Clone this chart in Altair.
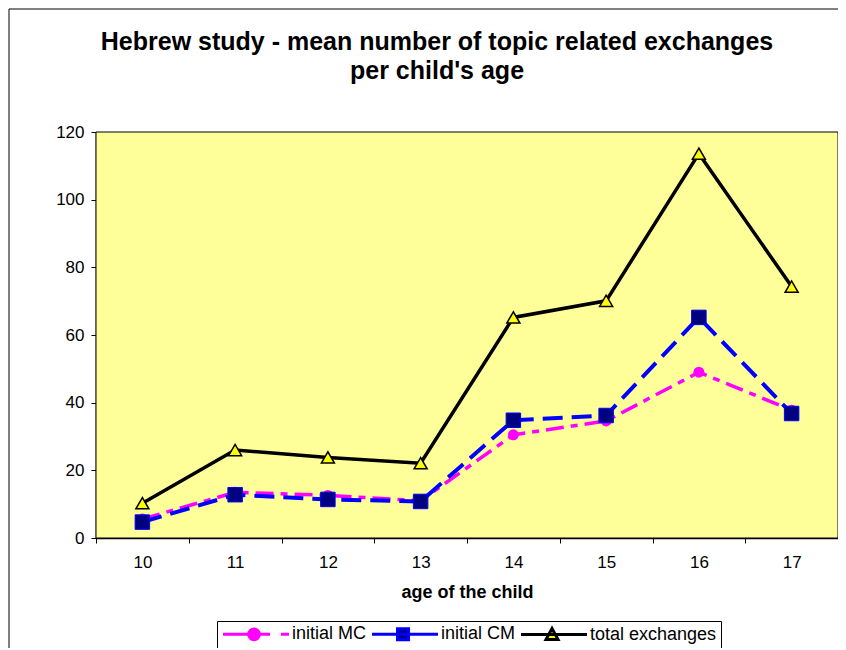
import altair as alt
import pandas as pd

ages = [10, 11, 12, 13, 14, 15, 16, 17]
initial_mc = [5.6, 13.5, 12.6, 11.0, 30.5, 34.6, 49.0, 37.8]
initial_cm = [4.7, 12.8, 11.4, 10.8, 34.8, 36.2, 65.2, 36.8]
total_exchanges = [10.3, 26.0, 23.8, 22.1, 65.2, 70.1, 113.6, 74.3]

series_names = ["initial MC", "initial CM", "total exchanges"]
line_colors = ["#FF00FF", "#0000FF", "#000000"]
marker_fills = ["#FF00FF", "#000080", "#FFFF00"]

title_lines = ["Hebrew study - mean number of topic related exchanges", "per child's age"]
x_title = "age of the child"

rows = []
for name, vals in zip(series_names, [initial_mc, initial_cm, total_exchanges]):
    for a, v in zip(ages, vals):
        rows.append({"age": a, "value": v, "series": name})
df = pd.DataFrame(rows)

W, H = 742, 406
FONT = "Liberation Sans"

x_ticks = [a - 0.5 for a in ages] + [ages[-1] + 0.5]
x_enc = alt.X(
    "age:Q",
    scale=alt.Scale(domain=[ages[0] - 0.5, ages[-1] + 0.5], nice=False, zero=False),
    axis=alt.Axis(
        values=x_ticks,
        labelExpr="datum.value < %s ? format(datum.value + 0.5, 'd') : ''" % ages[-1],
        labelOffset=W / len(ages) / 2,
        labelOverlap=False,
        labelFlush=False,
        title=x_title,
        grid=False,
    ),
)
y_enc = alt.Y(
    "value:Q",
    scale=alt.Scale(domain=[0, 120], nice=False),
    axis=alt.Axis(values=list(range(0, 121, 20)), title=None, grid=False),
)

base = alt.Chart(df)

def series_layers(name, dash, width, point_mark):
    d = base.transform_filter(alt.datum.series == name)
    line = d.mark_line(
        color=line_colors[series_names.index(name)], strokeWidth=width,
        **({"strokeDash": dash} if dash else {})
    ).encode(x=x_enc, y=y_enc)
    pts = d.mark_point(**point_mark).encode(x=x_enc, y=y_enc)
    return [line, pts]

layers = []
layers += series_layers("initial MC", [18, 7, 7, 7], 3.5,
                        dict(shape="circle", filled=True, color="#FF00FF", size=120, opacity=1))
layers += series_layers("initial CM", [20, 9], 4,
                        dict(shape="square", filled=True, fill="#000080", stroke="#0000FF",
                             strokeWidth=1, size=210, opacity=1))
layers += series_layers("total exchanges", None, 3.5,
                        dict(shape="triangle-up", filled=True, fill="#FFFF00", stroke="#000000",
                             strokeWidth=1.5, size=170, opacity=1))

# legend symbol shapes: line with marker (unit = 7px, drawn 0..66px from the symbol start)
leg_circle = "M-1,0H8.43M2.67,0A0.76,0.76 0 1,0 4.19,0A0.76,0.76 0 1,0 2.67,0Z"
leg_square = "M-1,0H8.43M2.64,-0.79H4.22V0.79H2.64Z"
leg_tri = "M-1,0H8.43M2.57,0.71L4.29,0.71L3.43,-0.86Z"

leg = alt.Legend(
    title=None, orient="none", legendX=121, legendY=489, direction="horizontal",
    strokeColor="#000000", fillColor="#FFFFFF", padding=4,
    labelFont=FONT, labelFontSize=18, labelColor="#000000",
    symbolSize=196, symbolStrokeWidth=3, labelOffset=53, columnPadding=-1,
    symbolOpacity=1,
)
legend_df = pd.DataFrame({"series": pd.Series([], dtype=str)})
legend_layer = alt.Chart(legend_df).mark_point(opacity=1).encode(
    shape=alt.Shape("series:N", scale=alt.Scale(domain=series_names,
                    range=[leg_circle, leg_square, leg_tri]), legend=leg),
    fill=alt.Fill("series:N", scale=alt.Scale(domain=series_names, range=marker_fills), legend=leg),
    stroke=alt.Stroke("series:N", scale=alt.Scale(domain=series_names, range=line_colors), legend=leg),
    strokeDash=alt.StrokeDash("series:N", scale=alt.Scale(domain=series_names,
                              range=[[47, 11, 10, 10], [1, 0], [1, 0]]), legend=leg),
)

one = pd.DataFrame({"a": [0]})
frame = alt.Chart(one).mark_rect(
    fill="transparent", stroke="#000000", strokeWidth=1
).encode(x=alt.value(-87), x2=alt.value(900), y=alt.value(-123), y2=alt.value(700))

plot_bg = alt.Chart(one).mark_rect(
    fill="#FFFF99", stroke="#000000", strokeWidth=1
).encode(x=alt.value(0), x2=alt.value(W), y=alt.value(0), y2=alt.value(H))

title = alt.Chart(one).mark_text(
    text=title_lines, font=FONT, fontSize=25, fontWeight="bold", color="#000000",
    align="center", baseline="alphabetic", lineHeight=29,
).encode(x=alt.value(341), y=alt.value(-82))

chart = alt.layer(frame, plot_bg, title, *layers, legend_layer).properties(
    width=W, height=H,
    autosize=alt.AutoSizeParams(type="none"),
    padding={"left": 88, "top": 124, "right": 0, "bottom": 110},
    background="#FFFFFF",
).configure_view(
    stroke=None
).configure_axis(
    labelFont=FONT, labelFontSize=17, labelColor="#000000",
    domainColor="#000000", domainWidth=1.5, tickColor="#000000", tickSize=5,
    titleFont=FONT, titleFontSize=18, titleFontWeight="bold", titleColor="#000000",
).configure_axisX(
    labelPadding=11, titlePadding=13,
).configure_axisY(
    labelPadding=7,
)

chart.save("out.html", embed_options={"renderer": "svg", "actions": False})
